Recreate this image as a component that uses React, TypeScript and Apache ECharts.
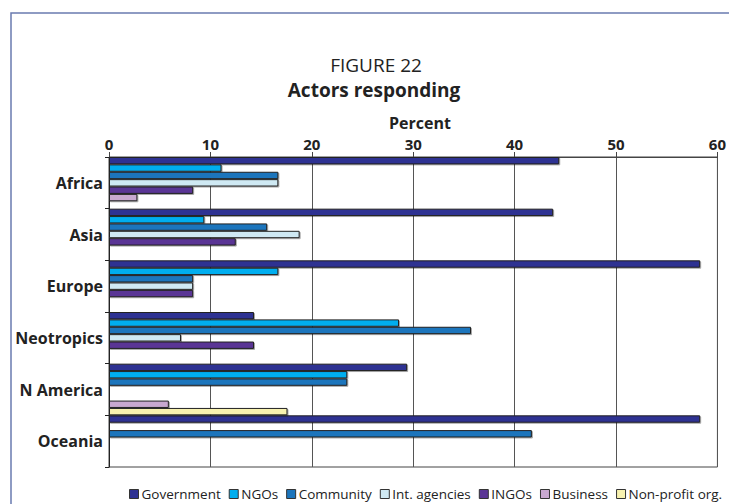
import React, { useEffect, useRef } from "react";
import * as echarts from "echarts";

const regions = ["Africa", "Asia", "Europe", "Neotropics", "N America", "Oceania"];
const seriesNames = ["Government", "NGOs", "Community", "Int. agencies", "INGOs", "Business", "Non-profit org."];
const colors = ["#2e3192", "#00aeef", "#1c75bc", "#cfe9f3", "#5a3595", "#c8a8d0", "#f8f2b0"];

const government = [44.4, 43.8, 58.3, 14.3, 29.4, 58.3];
const ngos = [11.1, 9.4, 16.7, 28.6, 23.5, 0];
const community = [16.7, 15.6, 8.3, 35.7, 23.5, 41.7];
const intAgencies = [16.7, 18.8, 8.3, 7.1, 0, 0];
const ingos = [8.3, 12.5, 8.3, 14.3, 0, 0];
const business = [2.8, 0, 0, 0, 5.9, 0];
const nonProfit = [0, 0, 0, 0, 17.6, 0];
const seriesValues = [government, ngos, community, intAgencies, ingos, business, nonProfit];

const xTicks = [0, 10, 20, 30, 40, 50, 60];

const FONT = "'Open Sans', 'Noto Sans', sans-serif";

export default function App() {
  const ref = useRef<HTMLDivElement>(null);
  useEffect(() => {
    if (!ref.current) return;
    const chart = echarts.init(ref.current, null, { renderer: "svg" });
    chart.setOption({
      animation: false,
      backgroundColor: "#ffffff",
      textStyle: { fontFamily: FONT },
      graphic: [
        {
          type: "rect",
          shape: { x: 11, y: 13, width: 740, height: 520 },
          style: { fill: "none", stroke: "#6a7bb0", lineWidth: 1.5 },
          silent: true,
        },
        {
          type: "text",
          x: 376,
          y: 65,
          style: { text: "FIGURE 22", fontSize: 19, lineHeight: 20, fontFamily: FONT, fill: "#222", align: "center", verticalAlign: "middle" },
        },
        {
          type: "text",
          x: 374,
          y: 90,
          style: { text: "Actors responding", fontSize: 19, lineHeight: 20, fontWeight: "bold", fontFamily: FONT, fill: "#222", align: "center", verticalAlign: "middle" },
        },
        {
          type: "text",
          x: 420,
          y: 123,
          style: { text: "Percent", fontSize: 16, lineHeight: 17, fontWeight: "bold", fontFamily: FONT, fill: "#222", align: "center", verticalAlign: "middle" },
        },
      ],
      grid: {
        left: 109,
        right: 8,
        top: 157,
        bottom: 37,
        show: true,
        borderColor: "#444",
        borderWidth: 1,
        containLabel: false,
      },
      legend: {
        data: seriesNames,
        left: 124,
        top: 482,
        itemWidth: 9,
        itemHeight: 9,
        itemGap: 8,
        icon: "rect",
        textStyle: { fontSize: 13.5, fontFamily: FONT, color: "#222", padding: [0, 0, 0, -2] },
        itemStyle: { borderColor: "#333", borderWidth: 1, shadowBlur: 0, shadowOffsetX: 0, shadowOffsetY: 0 },
      },
      xAxis: {
        type: "value",
        position: "top",
        min: xTicks[0],
        max: xTicks[xTicks.length - 1],
        interval: 10,
        axisLine: { show: true, lineStyle: { color: "#444", width: 1 } },
        axisTick: { show: true, length: 5, lineStyle: { color: "#444" } },
        axisLabel: { fontSize: 15, fontWeight: "bold", color: "#222", margin: 6, fontFamily: FONT },
        splitLine: { show: true, lineStyle: { color: "#555", width: 1 } },
      },
      yAxis: {
        type: "category",
        data: regions,
        inverse: true,
        axisLine: { show: true, lineStyle: { color: "#222", width: 1 } },
        axisTick: { show: true, length: 4, lineStyle: { color: "#222" } },
        axisLabel: { fontSize: 16, fontWeight: "bold", color: "#222", margin: 6, fontFamily: FONT },
      },
      series: seriesNames.map((name, i) => ({
        name,
        type: "bar",
        data: seriesValues[i],
        barGap: "0%",
        barCategoryGap: "0%",
        itemStyle: {
          color: colors[i],
          borderColor: "#222",
          borderWidth: 1,
          shadowColor: "rgba(0,0,0,0.35)",
          shadowOffsetX: 1,
          shadowOffsetY: 1,
          shadowBlur: 0,
        },
      })),
    });
    return () => chart.dispose();
  }, []);
  return <div ref={ref} style={{ position: "fixed", left: 0, top: 0, width: 729, height: 504 }} />;
}
